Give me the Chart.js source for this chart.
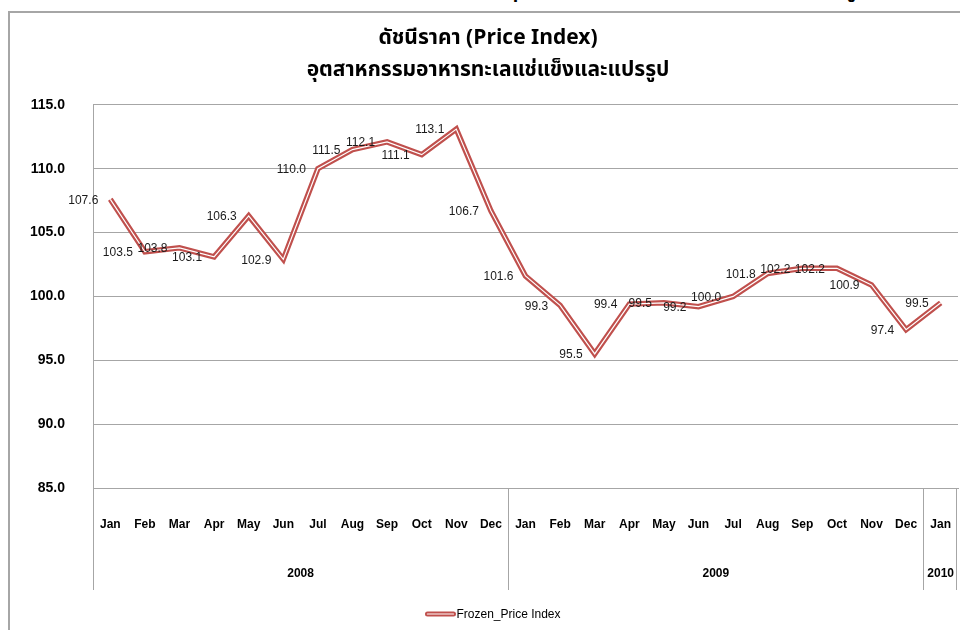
<!DOCTYPE html>
<html>
<head>
<meta charset="utf-8">
<script src="https://cdn.jsdelivr.net/npm/chart.js@4.4.0/dist/chart.umd.min.js"></script>
<style>
  html, body { margin: 0; padding: 0; background: #fff; overflow: hidden; }
  #wrap { position: relative; width: 960px; height: 630px; overflow: hidden; }
  #frame { position: absolute; left: 8px; top: 11px; width: 970px; height: 640px;
           border-left: 2px solid #a6a6a6; border-top: 2px solid #a6a6a6; box-sizing: border-box; }
  #cut { position: absolute; left: 507px; top: -21px; white-space: nowrap;
         font: bold 21px "Noto Sans Thai", "Noto Sans", "Liberation Sans", sans-serif; line-height: 21px; color: #000; }
  #myChart { position: absolute; left: 0; top: 0; }
</style>
</head>
<body>
<div id="wrap">
  <div id="cut">อุตสาหกรรมอาหารทะเลแช่แข็งและแปรรูป</div>
  <div id="frame"></div>
  <canvas id="myChart" width="960" height="630"></canvas>
</div>
<script>
// chart values
var titleLines = ['ดัชนีราคา (Price Index)', 'อุตสาหกรรมอาหารทะเลแช่แข็งและแปรรูป'];
var months = ['Jan', 'Feb', 'Mar', 'Apr', 'May', 'Jun', 'Jul', 'Aug', 'Sep', 'Oct', 'Nov', 'Dec',
              'Jan', 'Feb', 'Mar', 'Apr', 'May', 'Jun', 'Jul', 'Aug', 'Sep', 'Oct', 'Nov', 'Dec',
              'Jan'];
var years = ['2008', '2009', '2010'];
var yearSpans = [12, 12, 1];
var priceIndex = [107.6, 103.5, 103.8, 103.1, 106.3, 102.9, 110.0, 111.5, 112.1, 111.1, 113.1, 106.7,
                  101.6, 99.3, 95.5, 99.4, 99.5, 99.2, 100.0, 101.8, 102.2, 102.2, 100.9, 97.4,
                  99.5];
var seriesName = 'Frozen_Price Index';
var yMin = 85, yMax = 115, yStep = 5;

var gridGrey = '#a6a6a6';
var lineRed = '#c0504d';
var arial = '"Liberation Sans", Arial, sans-serif';
var thaiFont = '"Noto Sans Thai", "Noto Sans", "Liberation Sans", sans-serif';

// value labels to the left of every point
var pointLabels = {
    id: 'pointLabels',
    afterDatasetsDraw(chart) {
        var ctx = chart.ctx;
        var meta = chart.getDatasetMeta(0);
        ctx.save();
        ctx.font = '12px ' + arial;
        ctx.fillStyle = '#1a1a1a';
        ctx.textAlign = 'right';
        ctx.textBaseline = 'middle';
        meta.data.forEach(function (pt, i) {
            ctx.fillText(priceIndex[i].toFixed(1), pt.x - 12, pt.y + 1);
        });
        ctx.restore();
    }
};

// year row, group dividers and the legend
var axisGroups = {
    id: 'axisGroups',
    afterDraw(chart) {
        var ctx = chart.ctx;
        var x = chart.scales.x;
        var area = chart.chartArea;
        var top = x.top, bottom = x.bottom;
        var half = (x.getPixelForValue(1) - x.getPixelForValue(0)) / 2;
        ctx.save();
        ctx.strokeStyle = gridGrey;
        ctx.lineWidth = 1;
        ctx.beginPath();
        ctx.moveTo(area.left + 0.5, area.bottom);
        ctx.lineTo(area.left + 0.5, bottom);
        ctx.stroke();

        ctx.font = 'bold 12px ' + arial;
        ctx.fillStyle = '#000';
        ctx.textAlign = 'center';
        ctx.textBaseline = 'middle';
        var start = 0;
        yearSpans.forEach(function (span, k) {
            var x0 = x.getPixelForValue(start) - half;
            var x1 = x.getPixelForValue(start + span - 1) + half;
            var lineX = Math.min(Math.round(x1), chart.width - 4) + 0.5;
            ctx.beginPath();
            ctx.moveTo(lineX, top);
            ctx.lineTo(lineX, bottom);
            ctx.stroke();
            ctx.fillText(years[k], (x0 + x1) / 2, bottom - 16);
            start += span;
        });

        // legend
        ctx.font = '12px ' + arial;
        var tw = ctx.measureText(seriesName).width;
        var total = 31 + tw;
        var lx = chart.width / 2 + 13 - total / 2;
        var ly = 614;
        ctx.lineCap = 'round';
        ctx.strokeStyle = lineRed;
        ctx.lineWidth = 5;
        ctx.beginPath(); ctx.moveTo(lx + 2, ly); ctx.lineTo(lx + 28, ly); ctx.stroke();
        ctx.strokeStyle = '#fff';
        ctx.lineWidth = 1.2;
        ctx.beginPath(); ctx.moveTo(lx + 2, ly); ctx.lineTo(lx + 28, ly); ctx.stroke();
        ctx.fillStyle = '#000';
        ctx.textAlign = 'left';
        ctx.fillText(seriesName, lx + 31, ly + 1);
        ctx.restore();
    }
};

new Chart('myChart', {
    type: 'line',
    data: {
        labels: months,
        datasets: [{
            label: seriesName,
            data: priceIndex,
            borderColor: lineRed,
            borderWidth: 5.5,
            borderJoinStyle: 'miter',
            pointRadius: 0,
            tension: 0,
            order: 2
        }, {
            label: '',
            data: priceIndex,
            borderColor: '#ffffff',
            borderWidth: 1.2,
            borderJoinStyle: 'miter',
            pointRadius: 0,
            tension: 0,
            order: 1
        }]
    },
    options: {
        responsive: false,
        animation: false,
        events: [],
        layout: { padding: { left: 18, right: 2, top: 0, bottom: 40 } },
        plugins: {
            title: {
                display: true,
                text: titleLines,
                color: '#000',
                font: { family: thaiFont, size: 21, weight: 'bold', lineHeight: 1.52 },
                padding: { top: 24, bottom: 17 }
            },
            legend: { display: false },
            tooltip: { enabled: false }
        },
        scales: {
            y: {
                min: yMin,
                max: yMax,
                afterFit: function (s) { s.width = 75; },
                ticks: {
                    stepSize: yStep,
                    padding: 28,
                    color: '#000',
                    font: { family: arial, size: 14, weight: 'bold' },
                    callback: function (v) { return v.toFixed(1); }
                },
                grid: { color: gridGrey, drawTicks: false },
                border: { color: gridGrey }
            },
            x: {
                offset: true,
                afterFit: function (s) {
                    s.height = 102;
                    s.paddingLeft = 0;
                    s.paddingRight = 0;
                },
                ticks: {
                    padding: 29,
                    autoSkip: false,
                    maxRotation: 0,
                    color: '#000',
                    font: { family: arial, size: 12, weight: 'bold' }
                },
                grid: { display: false, drawTicks: false },
                border: { color: gridGrey }
            }
        }
    },
    plugins: [pointLabels, axisGroups]
});
</script>
</body>
</html>
